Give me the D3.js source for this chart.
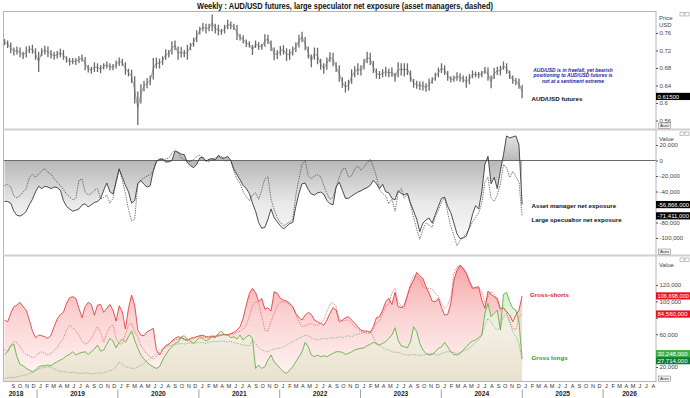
<!DOCTYPE html>
<html>
<head>
<meta charset="utf-8">
<title>Weekly : AUD/USD futures, large speculator net exposure</title>
<script src="https://cdn.jsdelivr.net/npm/d3@7/dist/d3.min.js"></script>
<style>
  body { margin: 0; background: #fff; }
  svg { display: block; font-family: "Liberation Sans", Arial, sans-serif; }
</style>
</head>
<body>
<svg id="chart" width="690" height="398"></svg>
<script>
// one point every two weeks, starting on this COT Tuesday
var firstDate = new Date(2018, 7, 7);

// AUD/USD futures, two-week high / low
var priceHigh = [
  .745,.742,.737,.726,.728,.726,.716,.728,.730,.732,
  .724,.716,.724,.730,.728,.720,.716,.718,.723,.720,
  .706,.702,.702,.702,.706,.710,.704,.686,.682,.692,
  .690,.686,.690,.694,.690,.688,.696,.703,.700,.692,
  .677,.675,.660,.625,.642,.650,.656,.662,.702,.703,
  .700,.706,.722,.720,.740,.742,.728,.727,.720,.732,
  .736,.748,.765,.773,.782,.780,.780,.801,.780,.778,
  .768,.778,.789,.785,.780,.777,.756,.754,.744,.740,
  .732,.742,.738,.734,.756,.755,.742,.726,.720,.729,
  .731,.724,.722,.728,.738,.755,.762,.750,.728,.710,
  .726,.725,.700,.690,.703,.715,.714,.692,.685,.658,
  .648,.652,.676,.683,.690,.685,.700,.716,.714,.695,
  .678,.672,.676,.682,.677,.680,.668,.692,.690,.690,
  .690,.673,.654,.650,.648,.648,.644,.655,.658,.668,
  .680,.690,.685,.672,.660,.662,.669,.667,.662,.660,
  .665,.673,.671,.670,.672,.681,.680,.662,.679,.682,
  .684,.694,.690,.673,.662,.656,.655,.640
];
var priceLow = [
  .733,.727,.715,.710,.712,.706,.702,.705,.715,.714,
  .700,.672,.708,.712,.706,.703,.700,.703,.706,.700,
  .693,.687,.690,.688,.692,.696,.676,.671,.668,.672,
  .672,.669,.678,.680,.676,.676,.680,.686,.686,.666,
  .662,.647,.600,.551,.600,.628,.635,.642,.655,.680,
  .680,.688,.700,.705,.712,.722,.700,.705,.706,.700,
  .722,.730,.740,.758,.765,.760,.765,.765,.760,.756,
  .757,.760,.770,.770,.768,.745,.744,.737,.729,.728,
  .711,.727,.723,.723,.730,.736,.720,.699,.702,.710,
  .712,.697,.700,.710,.718,.728,.740,.722,.703,.683,
  .700,.690,.677,.668,.677,.695,.685,.672,.650,.636,
  .625,.630,.645,.660,.665,.664,.678,.692,.688,.670,
  .657,.656,.660,.662,.660,.661,.650,.660,.664,.662,
  .665,.650,.636,.634,.631,.630,.627,.629,.645,.652,
  .660,.670,.665,.652,.648,.650,.652,.650,.648,.636,
  .644,.658,.660,.658,.660,.668,.652,.635,.656,.665,
  .664,.677,.668,.656,.645,.642,.634,.612
];

// net exposure, thousands of contracts
var netSolid = [
  -52.9,-52.9,-55,-65.4,-70.8,-71.7,-69.6,-65.4,-57,-50,
  -40.4,-33.3,-36.3,-33.3,-34.2,-36.3,-34.2,-35,-38.3,-51.7,
  -59.2,-62.5,-65.4,-64.2,-62.5,-57.5,-55.8,-60,-57.1,-54.2,
  -52.9,-49.2,-38.3,-29.2,-40.4,-43.3,-27.9,-11.3,-21.7,-32.1,
  -40.4,-55,-51.7,-30,-25.8,-30.8,-34.2,-32.5,-13.3,-1.7,
  1.7,2.1,-2.1,-1.7,0,11.7,10.8,8.3,7.5,-2.9,
  -6.7,-9.2,-5,3.3,4.2,-0.8,1.7,2.5,0.8,6.7,
  3.3,3.3,5.4,0,-11.3,-18.3,-25,-32.1,-36.3,-42.5,
  -55,-65.4,-80,-87.5,-86.3,-75.8,-62.5,-73.8,-79.2,-84.2,
  -88.3,-85,-81.3,-80,-59.2,-42.5,-30,-29.2,-37.5,-43.3,
  -44.6,-41.7,-40.8,-43.3,-51.7,-55.8,-57.1,-34.2,-27.9,-38.3,
  -48.8,-48.8,-45.8,-43.3,-40.8,-39.2,-36.7,-35,-32.1,-25.8,
  -30,-36.3,-30.8,-40.4,-41.7,-48.8,-50.8,-39.2,-42.5,-44.2,
  -42.5,-55,-65.4,-75.8,-91.7,-80.8,-76.7,-74.2,-80.8,-69.6,
  -59.2,-48.8,-47.5,-59.2,-67.5,-80.8,-94.6,-100.8,-100,-97.5,
  -86.3,-69.6,-58.3,-62.5,-40.4,-5,5.4,-30,-21.7,-36.3,
  -13.3,7.5,31.7,29.2,30.4,31.7,20,-56.9
];
var netDashed = [
  -32.1,-30.8,-34.2,-45.8,-48.3,-45.4,-40.4,-36.3,-22.5,-17.5,
  -21.7,-17.5,-13.3,-10.4,-15.4,-17.5,-23.8,-27.9,-32.1,-37.5,
  -43.3,-46.7,-50.8,-48.8,-25.8,-23.8,-40.4,-44.6,-42.5,-38.3,
  -36.3,-50,-47.5,-44.6,-55,-48.8,-25.8,-10,-25.8,-42.5,
  -63.3,-77.9,-75.8,-30,-25,-22.5,-20,-18.3,-13.3,-0.8,
  1.7,1.3,1.7,3.3,9.6,13.8,9.6,3.3,0.8,-0.8,
  -1.7,1.3,5.4,6.7,3.3,-0.8,-1.7,1.7,3.3,5,
  5.4,-0.8,0,0,-13.3,-23.8,-29.2,-40.4,-46.7,-52.1,
  -44.6,-41.7,-50,-37.5,-23.8,-20.8,-50,-63.3,-73.8,-80,
  -84.2,-82.1,-79.2,-75.8,-44.6,-23.8,-5,0,-19.6,-23.8,
  -19.6,-18.3,-20.8,-32.1,-42.5,-50,-47.5,-34.2,-21.7,-11.3,
  -10,-21.7,-19.6,-11.3,-7.1,-12.5,-8.3,-2.9,1.3,-8.3,
  -20.8,-38.3,-42.5,-45.8,-55.8,-50,-65.4,-42.5,-36.3,-48.8,
  -43.3,-57.1,-73.8,-88.3,-101.7,-89.2,-80.8,-83.3,-86.3,-72.5,
  -64.6,-54.2,-47.5,-67.5,-85,-96.7,-110,-102.9,-98.8,-94.6,
  -87.5,-79.2,-73.8,-67.5,-55,-27.9,-21.7,-48.8,-52.9,-44.6,
  -30,-5,-9.2,-21.7,-14.2,-20.8,-27.9,-71.4
];

// gross positions, thousands of contracts
var shortsSolid = [
  77.2,75.2,85.4,93.5,95.5,98.8,93.5,89.4,77.2,63.8,
  55.7,58.9,58.1,56.9,54.9,58.9,69.1,78.5,84.1,86.6,
  97.6,104.5,105.7,103.7,91.5,80.1,93.5,98.8,96.3,83.3,
  95.5,96.3,86.6,91.5,96.3,89.4,76,94.7,87.4,66.3,
  91.5,107.7,95.5,65,58.9,58.1,63,65,67.1,40.7,
  34.6,40.7,45.9,47.6,51.6,54.9,56.9,55.7,54.1,52.8,
  54.9,55.7,56.9,58.1,58.9,56.9,56.5,57.3,56.9,58.9,
  58.9,59.8,58.9,60.6,62.2,65,69.1,79.3,95.5,109.8,
  115.9,111,99.6,103.7,90.6,92.3,88.2,111.8,109.8,103.7,
  101.6,100.4,97.6,93.5,85.4,80.1,77.2,83.3,86.6,84.1,
  77.2,75.2,73.2,71.1,77.2,85.4,92.3,89.4,75.2,77.2,
  80.1,81.3,77.2,73.2,69.1,65,63.8,63.8,62.2,69.1,
  80.1,81.3,89.4,99.6,103.7,96.3,111,93.5,92.3,95.5,
  107.7,119.1,126,135.4,131.3,128,117.9,109.8,100.4,99.6,
  103.7,92.3,83.3,84.1,97.6,126,138.2,144.3,140.2,134.1,
  124,115.9,117.1,117.9,101.6,91.5,112.6,108.5,105.7,103.7,
  91.5,91.5,87.4,83.3,75.2,83.3,89.4,106.7
];
var shortsDashed = [
  40.7,39.4,46.7,50.8,50,44.7,38.6,35.4,33.7,31.3,
  32.5,36.6,38.6,36.6,34.6,36.6,40.7,43.5,50,54.9,
  65,71.1,67.9,63.8,58.9,51.6,47.6,50,54.9,62.2,
  69.1,62.2,50,61,69.1,71.1,54.9,47.6,48.8,59.8,
  71.1,73.2,63,56.9,45.9,40.7,35.4,32.5,29.7,32.5,
  37.8,41.9,45.9,48.8,50.8,52.8,54.1,54.9,52.8,51.6,
  54.1,54.9,56.9,58.1,56.9,55.7,57.3,58.9,58.1,56.9,
  58.9,59.8,58.9,59.8,61,62.2,63.8,66.3,71.1,82,
  95,100,97.6,81.3,65,63.8,75.2,85.4,94.7,98.8,
  99.6,98.8,96.3,93.5,83.3,75.2,69.1,70.3,72,73.2,
  71.1,71.1,73.2,77.2,87.4,96.3,98.8,93.5,79.3,76,
  77.2,77.2,73.2,69.1,66.3,63,62.2,61,61,66.3,
  73.2,76,85.4,93.5,97.6,109.8,115.9,99.6,93.5,91.5,
  105.7,122,131.3,130.1,127.2,117.9,115.9,115.9,115,109.8,
  105.7,97.6,91.5,95.5,105.7,134.1,142.3,142.3,139.4,136.2,
  126,117.9,115.9,115.9,112.6,97.6,105.7,111.8,108.9,99.6,
  89.4,93.5,85.4,75.2,67.1,65,81.3,84.6
];
var longsSolid = [
  35.4,38.6,45.9,47.6,32.5,23.2,21.5,18.3,16.3,14.2,
  16.3,20.3,21.5,21.5,22.4,21.5,24.4,26.4,28.5,30.5,
  33.7,35.4,38.6,34.6,36.6,37.8,38.6,35.4,38.6,41.9,
  46.7,39.4,40.7,47.6,54.9,51.6,43.5,50,54.1,50,
  56.9,63.8,52.8,42.7,34.6,29.7,25.6,22.4,20.3,18.3,
  20.3,28.5,34.6,40.7,44.7,48.8,50,56.9,58.1,54.1,
  51.6,48.8,52.8,55.7,54.9,51.6,54.1,56.9,55.7,61,
  63.8,58.9,59.8,55.7,56.9,54.1,58.9,52.8,56.9,58.9,
  54.9,18.3,22.4,18.3,20.3,28.5,34.6,26.4,22.4,18.3,
  14.2,12.2,16.3,20.3,26.4,32.5,38.6,50,44.7,34.6,
  32.5,34.6,32.5,33.7,32.5,34.6,36.6,38.6,38.6,37.8,
  35.4,36.6,38.6,40.7,41.9,42.7,43.5,45.9,47.6,50,
  48.8,46.7,48.8,50.8,54.9,58.9,67.9,52.8,45.9,44.7,
  43.5,50.8,69.1,63,48.8,40.7,36.6,34.6,35.4,38.6,
  42.7,44.7,50,44.7,38.6,35.4,34.6,36.6,40.7,44.7,
  48.8,51.6,52.8,55.7,58.9,85.4,97.6,81.3,85.4,89.4,
  65,108.5,111,99.6,91.5,89.4,75.2,30.2
];
var longsDashed = [
  6.1,6.5,7.3,7.3,8.1,8.9,9.7,10.5,12.2,13,
  15.4,17.8,18.7,19.5,20.3,19.5,17.8,16.2,14.6,14.2,
  13.8,13,13.8,13,12.2,12.2,13,12.2,11.3,12.2,
  13,12.2,13,14.6,15.4,16.2,20.3,26,23.6,20.3,
  19.5,18.3,18.3,20.3,22.3,24.3,27.6,30.4,33.3,36.5,
  40.6,42.6,43.9,45.5,46.7,47.1,47.9,48.7,47.9,48.7,
  49.6,48.7,49.6,50.4,49.6,48.7,50.4,50.8,51.2,50.8,
  51.6,51.2,50.8,51.2,49.6,48.7,47.9,46.7,46.3,45.5,
  52.8,48.8,43.5,40.7,39.4,38.6,40.7,41.9,42.7,42.7,
  44.7,46.7,48.8,50.8,52.8,54.9,56.9,58.9,58.1,55.7,
  54.1,52.8,54.1,54.9,54.1,55.7,54.9,55.7,56.9,55.7,
  56.9,58.1,56.9,58.9,59.8,61,62.2,63,63.8,56.9,
  47.6,45.9,43.5,41.9,40.7,38.6,37.8,37.8,36.6,35.4,
  34.6,34.6,35.4,34.6,33.7,34.6,35.4,36.2,36.6,35.4,
  34.6,36.2,37.8,38.6,38.6,37.8,36.6,37.8,39.4,40.7,
  42.7,46.7,50,52.8,58.9,71.1,79.3,75.2,69.1,65,
  69.1,81.3,85.4,75.2,63,56.9,48.8,27.7
];

// axis ticks and last-value tags
var priceTicks = [0.56, 0.6, 0.64, 0.68, 0.72, 0.76];
var netTicks = [-100, -80, -60, -40, -20, 0, 20];
var grossTicks = [20, 40, 60, 80, 100, 120];
var monthLetters = ["J","F","M","A","M","J","J","A","S","O","N","D"];
var years = [2018, 2019, 2020, 2021, 2022, 2023, 2024, 2025, 2026];
var priceTagValue = [0.615];
var priceTagText = ["0.61500"];
var netTagValue = [-56.866, -71.411];
var netTagText = ["-56,866,000", "-71,411,000"];
var grossTagValue = [106.698, 84.56, 30.248, 27.714];
var grossTagText = ["106,698,000", "84,560,000", "30,248,000", "27,714,000"];
var grossTagColor = ["#e8121c", "#e8121c", "#3cb043", "#0e7a3c"];

var svg = d3.select("#chart");
var defs = svg.append("defs");
var left = 3, right = 656;
var panels = [{top: 11, bottom: 128.5}, {top: 130.5, bottom: 254.5}, {top: 256.5, bottom: 381.5}];

var dates = priceHigh.map(function(d, i) { return d3.timeDay.offset(firstDate, 14 * i); });

var x = d3.scaleTime().domain([new Date(2018, 6, 31), new Date(2026, 7, 28)]).range([left, right]);
var yP = d3.scaleLinear().domain([0.56, 0.76]).range([120.5, 33]);
var yN = d3.scaleLinear().domain([-100, 20]).range([238, 145]);
var yG = d3.scaleLinear().domain([20, 120]).range([367, 285]);

function gradient(id, y1, y2, stops) {
  var g = defs.append("linearGradient").attr("id", id)
    .attr("gradientUnits", "userSpaceOnUse")
    .attr("x1", 0).attr("x2", 0).attr("y1", y1).attr("y2", y2);
  stops.forEach(function(s) {
    g.append("stop").attr("offset", s[0]).attr("stop-color", s[1])
      .attr("stop-opacity", s.length > 2 ? s[2] : 1);
  });
}
gradient("gGray", 130, 254, [[0, "#ececec"], [0.25, "#b8b8b8"], [0.6, "#eaeaea"], [1, "#fdfdfd"]]);
gradient("gRed", 262, 381, [[0, "#f6a3a3"], [0.45, "#fbd3d3"], [1, "#fff7f5"]]);
gradient("gGreen", 285, 381, [[0, "#cdeebd", 0.9], [0.45, "#f3f1e6", 0.9], [1, "#e8e0cc", 0.95]]);

panels.forEach(function(p, k) {
  defs.append("clipPath").attr("id", "clip" + k).append("rect")
    .attr("x", left).attr("y", p.top).attr("width", right - left).attr("height", p.bottom - p.top);
});

// ---- panel 1 : price bars ----
var p1 = svg.append("g").attr("clip-path", "url(#clip0)");
p1.append("path").datum(dates)
  .attr("fill", "none").attr("stroke", "#9a9a9a").attr("stroke-width", 0.9)
  .attr("d", d3.line()
    .x(function(d) { return x(d); })
    .y(function(d, i) { return (yP(priceLow[i]) + yP(priceHigh[i])) / 2; }));
p1.selectAll("line").data(dates).join("line")
  .attr("x1", function(d) { return x(d); })
  .attr("x2", function(d) { return x(d); })
  .attr("y1", function(d, i) { return yP(priceLow[i]) + 0.5; })
  .attr("y2", function(d, i) { return yP(priceHigh[i]) - 0.5; })
  .attr("stroke", "#6a6a6a")
  .attr("stroke-width", 1.3);

// ---- panel 2 : net exposure ----
var p2 = svg.append("g").attr("clip-path", "url(#clip1)");
p2.append("path").datum(dates)
  .attr("fill", "url(#gGray)")
  .attr("d", d3.area()
    .x(function(d) { return x(d); })
    .y0(yN(0))
    .y1(function(d, i) { return yN(netSolid[i]); }));
p2.append("line")
  .attr("x1", left).attr("x2", right).attr("y1", yN(0)).attr("y2", yN(0))
  .attr("stroke", "#6a6a6a").attr("stroke-width", 1);
var netLine = function(arr) {
  return d3.line().x(function(d) { return x(d); }).y(function(d, i) { return yN(arr[i]); });
};
p2.append("path").datum(dates)
  .attr("fill", "none").attr("stroke", "#4a4a4a").attr("stroke-width", 0.8)
  .attr("stroke-dasharray", "1.3,1.1")
  .attr("d", netLine(netDashed));
p2.append("path").datum(dates)
  .attr("fill", "none").attr("stroke", "#2e2e2e").attr("stroke-width", 0.85)
  .attr("d", netLine(netSolid));

// ---- panel 3 : gross longs / shorts ----
var p3 = svg.append("g").attr("clip-path", "url(#clip2)");
var grossArea = function(arr) {
  return d3.area().x(function(d) { return x(d); }).y0(panels[2].bottom)
    .y1(function(d, i) { return yG(arr[i]); });
};
var grossLine = function(arr) {
  return d3.line().x(function(d) { return x(d); }).y(function(d, i) { return yG(arr[i]); });
};
p3.append("path").datum(dates).attr("fill", "url(#gRed)").attr("d", grossArea(shortsSolid));
p3.append("path").datum(dates).attr("fill", "url(#gGreen)").attr("d", grossArea(longsSolid));
p3.append("path").datum(dates).attr("fill", "none").attr("stroke", "#e06a6a")
  .attr("stroke-width", 0.8).attr("stroke-dasharray", "1.3,1.1").attr("d", grossLine(shortsDashed));
p3.append("path").datum(dates).attr("fill", "none").attr("stroke", "#86a686")
  .attr("stroke-width", 0.8).attr("stroke-dasharray", "1.3,1.1").attr("d", grossLine(longsDashed));
p3.append("path").datum(dates).attr("fill", "none").attr("stroke", "#e3363c")
  .attr("stroke-width", 0.85).attr("d", grossLine(shortsSolid));
p3.append("path").datum(dates).attr("fill", "none").attr("stroke", "#5aae3c")
  .attr("stroke-width", 0.85).attr("d", grossLine(longsSolid));

// ---- frame ----
svg.append("rect").attr("x", left + 0.5).attr("y", 11.5)
  .attr("width", right - left - 0.5).attr("height", panels[2].bottom - 11.5)
  .attr("fill", "none").attr("stroke", "#b4b4b4").attr("stroke-width", 1);
[129.5, 255.5].forEach(function(y) {
  svg.append("line").attr("x1", left).attr("x2", 690).attr("y1", y).attr("y2", y)
    .attr("stroke", "#cfcfcf").attr("stroke-width", 2);
});

// ---- right axes ----
var tagYs = [];
function tagPositions(values, scale) {
  var ys = values.map(function(v) { return scale(v); });
  for (var i = ys.length - 2; i >= 0; i--) {
    if (ys[i + 1] - ys[i] < 7) ys[i] = ys[i + 1] - 7;
  }
  tagYs = tagYs.concat(ys);
  return ys;
}
var priceTagY = tagPositions(priceTagValue, yP);
var netTagY = tagPositions(netTagValue, yN);
var grossTagY = tagPositions(grossTagValue, yG);

function rightAxis(scale, ticks, fmt) {
  var g = svg.append("g").attr("transform", "translate(" + right + ",0)")
    .call(d3.axisRight(scale).tickValues(ticks).tickSize(2).tickPadding(1.5).tickFormat(fmt));
  g.attr("font-size", 6).attr("font-family", "Liberation Sans, Arial, sans-serif");
  g.select(".domain").remove();
  g.selectAll(".tick line").attr("stroke", "#555");
  g.selectAll(".tick text").attr("fill", "#444")
    .style("display", function(d) {
      var y = scale(d);
      return tagYs.some(function(t) { return Math.abs(t - y) < 4.5; }) ? "none" : null;
    });
  return g;
}
var thousands = d3.format(",");
rightAxis(yP, priceTicks, function(d) { return String(+d.toFixed(2)); });
rightAxis(yN, netTicks, function(d) { return thousands(d * 1000).replace("\u2212", "-"); });
rightAxis(yG, grossTicks, function(d) { return thousands(d * 1000); });

var axisTitles = [["Price", 20], ["USD", 26.5], ["Value", 140.5], ["Value", 267]];
svg.append("g").selectAll("text").data(axisTitles).join("text")
  .attr("x", 659).attr("y", function(d) { return d[1]; })
  .attr("font-size", 6).attr("fill", "#444").text(function(d) { return d[0]; });

// last value tags
function tags(ys, texts, colors) {
  var g = svg.append("g");
  g.selectAll("rect").data(ys).join("rect")
    .attr("x", right).attr("y", function(d) { return d - 3.6; })
    .attr("width", 690 - right).attr("height", 7.2)
    .attr("fill", function(d, i) { return colors[i]; });
  g.selectAll("text").data(texts).join("text")
    .attr("x", right + 1.5).attr("y", function(d, i) { return ys[i] + 2.2; })
    .attr("font-size", 6).attr("fill", "#fff")
    .text(function(d) { return d; })
    .each(function() {
      if (this.getComputedTextLength() > 31.5) {
        d3.select(this).attr("textLength", 31.5).attr("lengthAdjust", "spacingAndGlyphs");
      }
    });
}
tags(priceTagY, priceTagText, ["#000"]);
tags(netTagY, netTagText, ["#000", "#000"]);
tags(grossTagY, grossTagText, grossTagColor);

// "Auto" buttons and panel icons
panels.forEach(function(p) {
  var g = svg.append("g");
  g.append("rect").attr("x", 658.5).attr("y", p.bottom - 5.5).attr("width", 12).attr("height", 5.5)
    .attr("fill", "#f2f2f2").attr("stroke", "#777").attr("stroke-width", 0.5);
  g.append("text").attr("x", 664.5).attr("y", p.bottom - 1.2).attr("text-anchor", "middle")
    .attr("font-size", 4.4).attr("fill", "#333").text("Auto");
  [680, 685].forEach(function(ix) {
    g.append("rect").attr("x", ix).attr("y", p.top + 1.5).attr("width", 4).attr("height", 3.5)
      .attr("fill", "#fff").attr("stroke", "#999").attr("stroke-width", 0.6);
  });
});

// ---- time axis ----
var months = d3.timeMonth.range(new Date(2018, 8, 1), new Date(2026, 8, 1));
svg.append("g").selectAll("text").data(months).join("text")
  .attr("x", function(d) { return x(d3.timeDay.offset(d, 15)); })
  .attr("y", 388).attr("text-anchor", "middle")
  .attr("font-size", 5.6).attr("fill", "#333")
  .text(function(d) { return monthLetters[d.getMonth()]; });
svg.append("g").selectAll("line").data(years.slice(1)).join("line")
  .attr("x1", function(d) { return x(new Date(d, 0, 1)); })
  .attr("x2", function(d) { return x(new Date(d, 0, 1)); })
  .attr("y1", 389.5).attr("y2", 398)
  .attr("stroke", "#888").attr("stroke-width", 0.8);
svg.append("g").selectAll("text").data(years).join("text")
  .attr("x", function(d) {
    var a = Math.max(x(new Date(d, 0, 1)), left), b = Math.min(x(new Date(d + 1, 0, 1)), right);
    return (a + b) / 2 - (d === 2018 ? 4 : 0);
  })
  .attr("y", 396).attr("text-anchor", "middle")
  .attr("font-size", 6.6).attr("font-weight", "bold").attr("fill", "#222")
  .text(function(d) { return d; });

// ---- title and notes ----
svg.append("text").attr("x", 345).attr("y", 8.5).attr("text-anchor", "middle")
  .attr("font-family", "Liberation Sans Narrow, Arial Narrow, Liberation Sans, sans-serif")
  .attr("font-size", 8.6).attr("font-weight", "bold").attr("fill", "#111")
  .attr("textLength", 296).attr("lengthAdjust", "spacingAndGlyphs")
  .text("Weekly : AUD/USD futures, large speculator net exposure (asset managers, dashed)");

var note = ["AUD/USD is in freefall, yet bearish", "positioning to AUD/USD futures is", "not at a sentiment extreme"];
svg.append("g").selectAll("text").data(note).join("text")
  .attr("x", 573).attr("y", function(d, i) { return 72 + i * 5.3; })
  .attr("text-anchor", "middle").attr("font-size", 4.9)
  .attr("font-weight", "bold").attr("font-style", "italic").attr("fill", "#27299a")
  .text(function(d) { return d; });

var labels = [
  ["AUD/USD futures", 531.5, 100.5, "#111"],
  ["Asset manager net exposure", 531.5, 207.5, "#111"],
  ["Large specualtor net exposure", 531.5, 221.5, "#111"],
  ["Gross-shorts", 530, 296.5, "#d81e22"],
  ["Gross longs", 531.5, 360, "#2f9a2a"]
];
svg.append("g").selectAll("text").data(labels).join("text")
  .attr("x", function(d) { return d[1]; }).attr("y", function(d) { return d[2]; })
  .attr("font-size", 6.2).attr("font-weight", "bold")
  .attr("fill", function(d) { return d[3]; })
  .text(function(d) { return d[0]; });
</script>
</body>
</html>
